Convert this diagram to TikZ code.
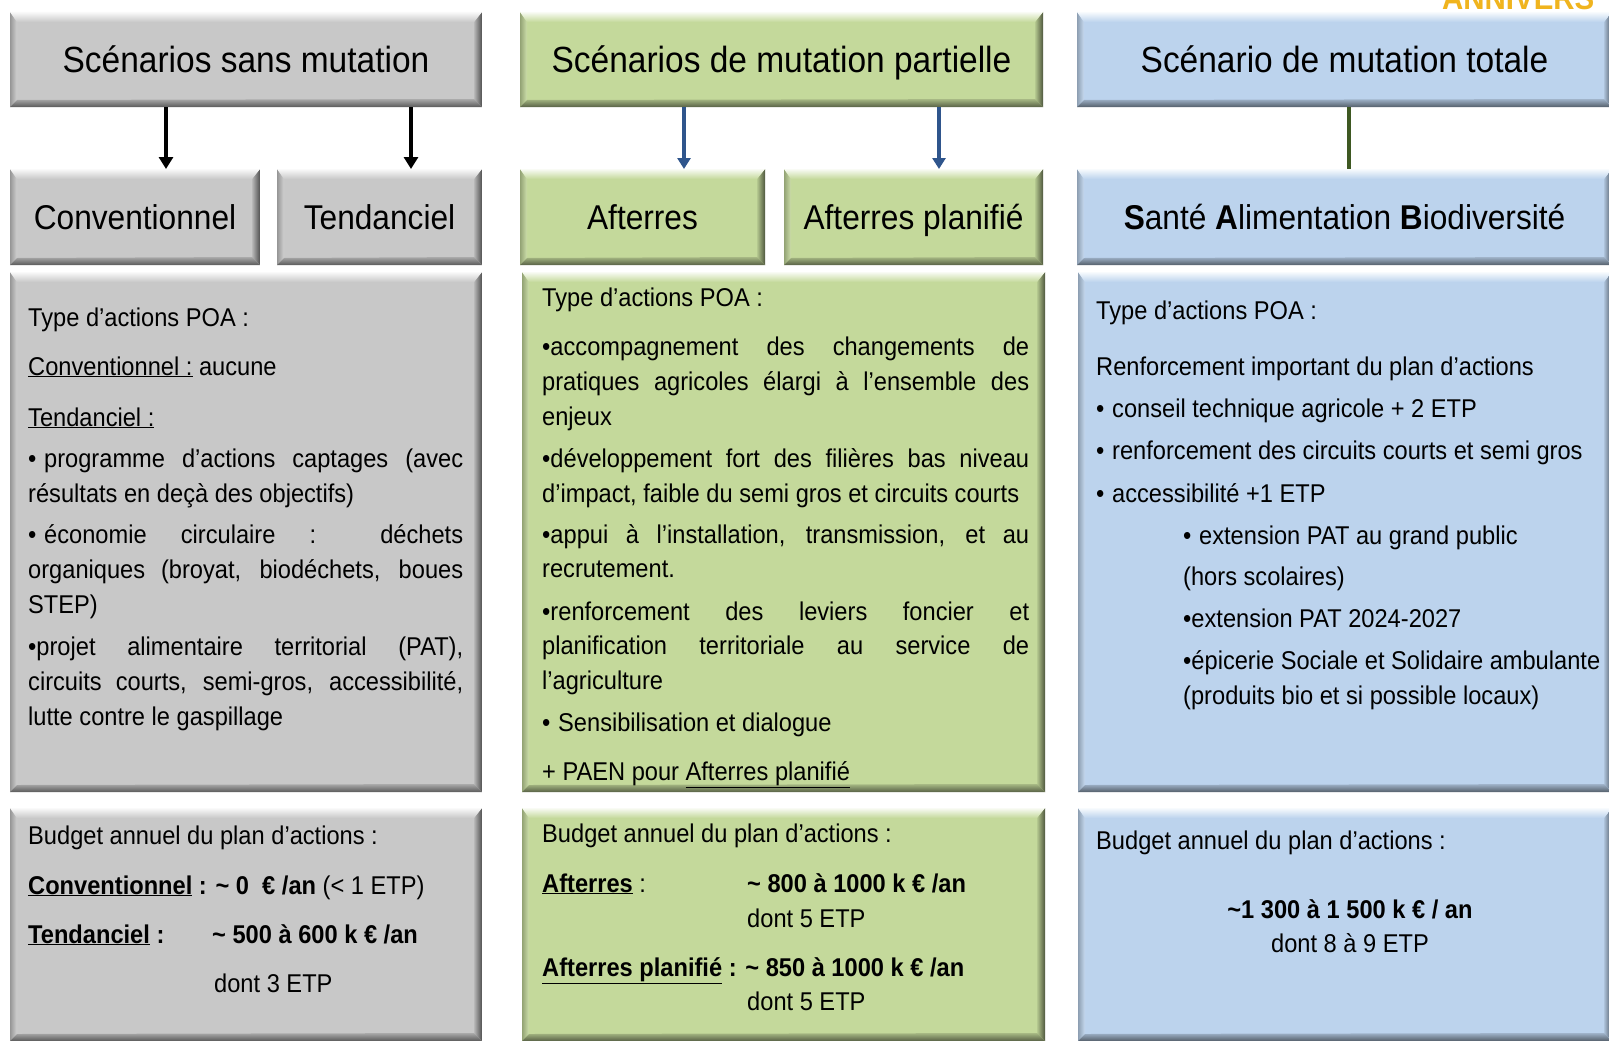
\documentclass[tikz,border=0pt]{standalone}
\usepackage{fontspec}
\setmainfont{Liberation Sans}[FakeStretch=0.92]
\usetikzlibrary{arrows.meta}

\definecolor{boxgray}{RGB}{200,200,200}
\definecolor{boxgreen}{RGB}{196,217,155}
\definecolor{boxblue}{RGB}{188,211,237}
\definecolor{arrowblue}{RGB}{47,85,140}
\definecolor{linegreen}{RGB}{62,88,34}
\definecolor{annivgold}{RGB}{240,180,30}

\newcommand{\tld}{\textasciitilde}
\newcommand{\undl}[1]{\underline{#1}}
\newcommand{\jl}[2]{\makebox[#1][s]{#2}}

\tikzset{
	bevel/.style={fill=#1, draw=none, inner sep=0pt, outer sep=0pt, anchor=north west,
		path picture={
			\coordinate (pa) at (path picture bounding box.north west);
			\coordinate (pb) at (path picture bounding box.north east);
			\coordinate (pc) at (path picture bounding box.south east);
			\coordinate (pd) at (path picture bounding box.south west);
			\shade[left color=#1!75!black, right color=#1!85!white] (pa) -- ([shift={(7pt,-10pt)}]pa) -- ([shift={(7pt,7pt)}]pd) -- (pd) -- cycle;
			\shade[left color=#1!92!black, right color=#1!40!black] (pb) -- (pc) -- ([shift={(-8pt,8pt)}]pc) -- ([shift={(-8pt,-10pt)}]pb) -- cycle;
			\shade[top color=#1!10!white, bottom color=#1] (pa) -- (pb) -- ([shift={(-8pt,-10pt)}]pb) -- ([shift={(7pt,-10pt)}]pa) -- cycle;
			\shade[top color=#1!85!black, bottom color=#1!45!black] (pd) -- ([shift={(7pt,7pt)}]pd) -- ([shift={(-8pt,8pt)}]pc) -- (pc) -- cycle;
		}},
	head/.style={font=\fontsize{36.4}{42}\selectfont, text height=26pt, text depth=0pt},
	sub/.style={font=\fontsize{34.4}{40}\selectfont, text height=24.6pt, text depth=0pt},
	txt/.style={anchor=base west, inner sep=0pt, font=\fontsize{25.7}{30}\selectfont},
	blk/.style={-{Triangle[width=14pt,length=12pt]}, line width=3.5pt, black},
	blu/.style={-{Triangle[width=13pt,length=11pt]}, line width=3.2pt, arrowblue},
	grn/.style={line width=4pt, linegreen},
}

\begin{document}
\begin{tikzpicture}[x=1pt,y=-1pt]
	\useasboundingbox (0,0) rectangle (1609,1041);
	\clip (0,0) rectangle (1609,1041);
	\fill[white] (0,0) rectangle (1609,1041);
	\node[anchor=base west, inner sep=0pt, text=annivgold, font=\bfseries\fontsize{32}{32}\selectfont] (anniv) at (1442,10) {ANNIVERS};

	\node[bevel=boxgray, head, minimum width=472pt, minimum height=95pt] (sans) at (10,12) {Scénarios sans mutation};
	\node[bevel=boxgreen, head, minimum width=523pt, minimum height=95pt] (part) at (520,12) {Scénarios de mutation partielle};
	\node[bevel=boxblue, head, minimum width=535pt, minimum height=95pt] (tot) at (1077,12) {Scénario de mutation totale};

	\node[bevel=boxgray, sub, minimum width=250pt, minimum height=96pt] (conv) at (10,169) {Conventionnel};
	\node[bevel=boxgray, sub, minimum width=205pt, minimum height=96pt] (tend) at (277,169) {Tendanciel};
	\node[bevel=boxgreen, sub, minimum width=245pt, minimum height=96pt] (aft) at (520,169) {Afterres};
	\node[bevel=boxgreen, sub, minimum width=259pt, minimum height=96pt] (aftp) at (784,169) {Afterres planifié};
	\node[bevel=boxblue, sub, minimum width=535pt, minimum height=96pt] (sab) at (1077,169) {\textbf{S}anté \textbf{A}limentation \textbf{B}iodiversité};

	\node[bevel=boxgray, minimum width=472pt, minimum height=520pt] (act1) at (10,272) {};
	\node[bevel=boxgreen, minimum width=523pt, minimum height=520pt] (act2) at (522,272) {};
	\node[bevel=boxblue, minimum width=534pt, minimum height=520pt] (act3) at (1078,272) {};

	\node[bevel=boxgray, minimum width=472pt, minimum height=233pt] (bud1) at (10,808) {};
	\node[bevel=boxgreen, minimum width=523pt, minimum height=233pt] (bud2) at (522,808) {};
	\node[bevel=boxblue, minimum width=534pt, minimum height=233pt] (bud3) at (1078,808) {};

	\draw[blk] ([xshift=31pt]conv.north |- sans.south) -- ([xshift=31pt]conv.north);
	\draw[blk] ([xshift=31.5pt]tend.north |- sans.south) -- ([xshift=31.5pt]tend.north);
	\draw[blu] ([xshift=41.5pt]aft.north |- part.south) -- ([xshift=41.5pt]aft.north);
	\draw[blu] ([xshift=25.5pt]aftp.north |- part.south) -- ([xshift=25.5pt]aftp.north);
	\draw[grn] ([xshift=4.5pt]sab.north |- tot.south) -- ([xshift=4.5pt]sab.north);

	\node[txt] (a1l1) at (28,326) {Type d’actions POA :};
	\node[txt] (a1l2) at (28,375) {\undl{Conventionnel :} aucune};
	\node[txt] (a1l3) at (28,426) {\undl{Tendanciel :}};
	\node[txt] (a1l4) at (28,467) {\jl{435pt}{•\hspace{.3em}programme d’actions captages (avec}};
	\node[txt] (a1l5) at (28,502) {résultats en deçà des objectifs)};
	\node[txt] (a1l6) at (28,543) {\jl{435pt}{•\hspace{.3em}économie circulaire : déchets}};
	\node[txt] (a1l7) at (28,578) {\jl{435pt}{organiques (broyat, biodéchets, boues}};
	\node[txt] (a1l8) at (28,613) {STEP)};
	\node[txt] (a1l9) at (28,655) {\jl{435pt}{•projet alimentaire territorial (PAT),}};
	\node[txt] (a1l10) at (28,690) {\jl{435pt}{circuits courts, semi-gros, accessibilité,}};
	\node[txt] (a1l11) at (28,725) {lutte contre le gaspillage};

	\node[txt] (a2l1) at (542,306) {Type d’actions POA :};
	\node[txt] (a2l2) at (542,355) {\jl{487pt}{•accompagnement des changements de}};
	\node[txt] (a2l3) at (542,390) {\jl{487pt}{pratiques agricoles élargi à l’ensemble des}};
	\node[txt] (a2l4) at (542,425) {enjeux};
	\node[txt] (a2l5) at (542,467) {\jl{487pt}{•développement fort des filières bas niveau}};
	\node[txt] (a2l6) at (542,502) {d’impact, faible du semi gros et circuits courts};
	\node[txt] (a2l7) at (542,543) {\jl{487pt}{•appui à l’installation, transmission, et au}};
	\node[txt] (a2l8) at (542,577) {recrutement.};
	\node[txt] (a2l9) at (542,620) {\jl{487pt}{•renforcement des leviers foncier et}};
	\node[txt] (a2l10) at (542,654) {\jl{487pt}{planification territoriale au service de}};
	\node[txt] (a2l11) at (542,689) {l’agriculture};
	\node[txt] (a2l12) at (542,731) {•\hspace{.3em}Sensibilisation et dialogue};
	\node[txt] (a2l13) at (542,780) {+ PAEN pour \undl{Afterres planifié}};

	\node[txt] (a3l1) at (1096,319) {Type d’actions POA :};
	\node[txt] (a3l2) at (1096,375) {Renforcement important du plan d’actions};
	\node[txt] (a3l3) at (1096,417) {•\hspace{.3em}conseil technique agricole + 2 ETP};
	\node[txt] (a3l4) at (1096,459) {•\hspace{.3em}renforcement des circuits courts et semi gros};
	\node[txt] (a3l5) at (1096,502) {•\hspace{.3em}accessibilité +1 ETP};
	\node[txt] (a3l6) at (1183,544) {•\hspace{.3em}extension PAT au grand public};
	\node[txt] (a3l7) at (1183,585) {(hors scolaires)};
	\node[txt] (a3l8) at (1183,627) {•extension PAT 2024-2027};
	\node[txt] (a3l9) at (1183,669) {•épicerie Sociale et Solidaire ambulante};
	\node[txt] (a3l10) at (1183,704) {(produits bio et si possible locaux)};

	\node[txt] (b1l1) at (28,844) {Budget annuel du plan d’actions :};
	\node[txt] (b1l2) at (28,894) {\textbf{\undl{Conventionnel} : \tld{} 0 \ € /an} (< 1 ETP)};
	\node[txt] (b1l3) at (28,943) {\textbf{\undl{Tendanciel} :}};
	\node[txt] (b1l3b) at (212,943) {\textbf{\tld{} 500 à 600 k € /an}};
	\node[txt] (b1l4) at (214,992) {dont 3 ETP};

	\node[txt] (b2l1) at (542,842) {Budget annuel du plan d’actions :};
	\node[txt] (b2l2) at (542,892) {\textbf{\undl{Afterres}} :};
	\node[txt] (b2l2b) at (747,892) {\textbf{\tld{} 800 à 1000 k € /an}};
	\node[txt] (b2l3) at (747,927) {dont 5 ETP};
	\node[txt] (b2l4) at (542,976) {\textbf{\undl{Afterres planifié} : \tld{} 850 à 1000 k € /an}};
	\node[txt] (b2l5) at (747,1010) {dont 5 ETP};

	\node[txt] (b3l1) at (1096,849) {Budget annuel du plan d’actions :};
	\node[txt, anchor=base] (b3l2) at (1350,918) {\textbf{\tld{}1 300 à 1 500 k € / an}};
	\node[txt, anchor=base] (b3l3) at (1350,952) {dont 8 à 9 ETP};
\end{tikzpicture}
\end{document}
